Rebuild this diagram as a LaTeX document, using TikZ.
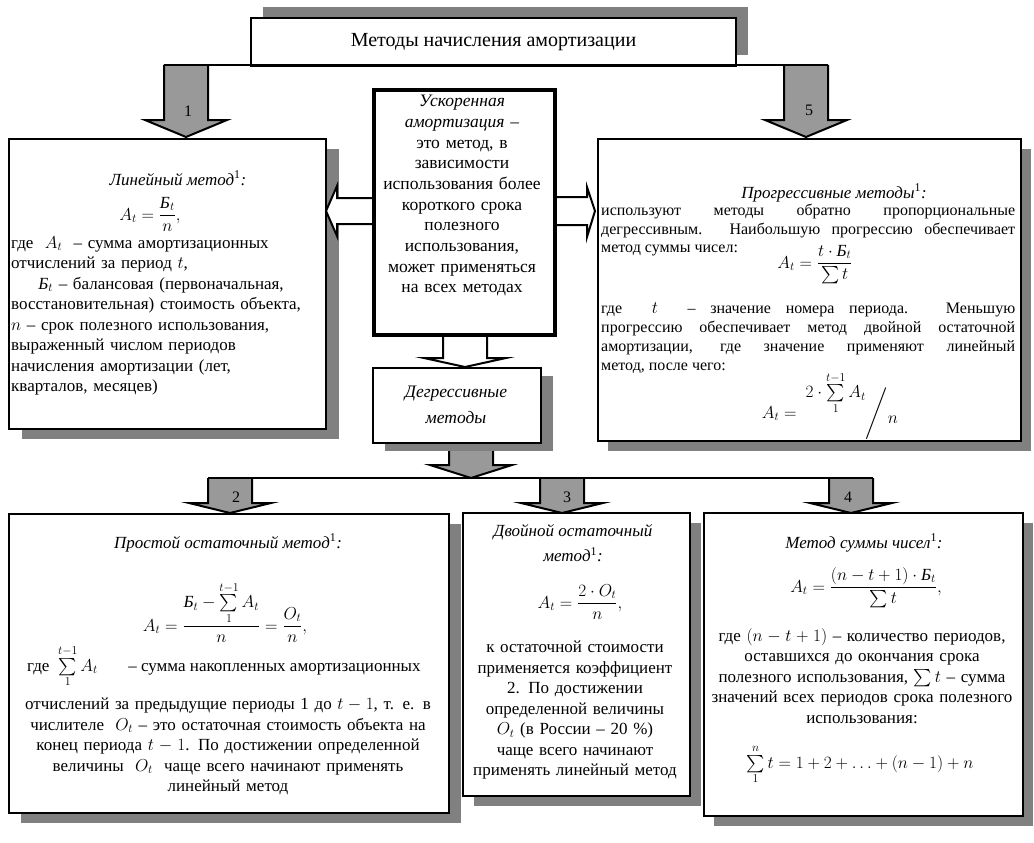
\documentclass[tikz,border=0pt]{standalone}
\usepackage{amsmath}
\usepackage{fontspec}
\setmainfont{Liberation Serif}
\usetikzlibrary{shadows}

\definecolor{shadegray}{RGB}{128,128,128}
\definecolor{arrowgray}{RGB}{153,153,153}

\newcommand{\Bal}{\text{\itshape Б}}
\newcommand{\fn}{\textsuperscript{\upshape 1}:}
% block arrow pointing down: style, x centre, top, head base, tip
\newcommand{\blkdown}[5]{%
  \draw[#1] (#2-22,#3) -- (#2-22,#4) -- (#2-41,#4) -- (#2,#5)
    -- (#2+41,#4) -- (#2+22,#4) -- (#2+22,#3);}

\tikzset{
  frame/.style={draw, line width=2pt, fill=white, anchor=north west, inner sep=0pt},
  boxshadow/.style={drop shadow={shadow xshift=#1, shadow yshift=-10pt,
      fill=shadegray, opacity=1}},
  boxshadow/.default=12pt,
  body/.style={inner sep=0pt, font=\fontsize{17}{20.5}\selectfont},
  hd/.style={inner sep=0pt, font=\fontsize{17}{20.5}\selectfont\itshape, anchor=base},
  fml/.style={inner sep=0pt, font=\fontsize{17}{20.5}\selectfont, anchor=base},
  num/.style={inner sep=0pt, font=\fontsize{16}{16}\selectfont},
  garrow/.style={draw=black, fill=arrowgray, line width=2pt},
  warrow/.style={draw=black, fill=white, line width=2pt},
}

\begin{document}
\begin{tikzpicture}[x=1pt, y=-1pt, line join=miter]
\useasboundingbox (0,0) rectangle (1034,843);

% top: methods
\node[frame, minimum width=485pt, minimum height=48pt,
  drop shadow={shadow xshift=12pt, shadow yshift=11pt, fill=shadegray, opacity=1},
  font=\fontsize{20}{22}\selectfont] (title) at (250,17) {Методы начисления амортизации};
\blkdown{garrow}{186}{65}{120}{137}
\blkdown{garrow}{806}{65}{120}{137}
\draw[line width=2pt] (164,65) -- (828,65);
\node[num] (n1) at (188,111) {1};
\node[num] (n5) at (809,110) {5};

% linear method
\node[frame, boxshadow=13pt, minimum width=317pt, minimum height=290pt] (lin) at (8,138) {};
\node[hd] (linhd) at (178,185) {Линейный метод\fn};
\node[fml] (linf) at (150,220) {$A_t=\dfrac{\Bal_t}{n},$};
\node[body, anchor=north west, text width=312pt, align=left] (lintxt) at (11,236)
  {где \ $A_t$ \ – сумма амортизационных\\
   отчислений за период $t$,\\
   \hspace*{1.6em}$\Bal_t$ – балансовая (первоначальная,\\
   восстановительная) стоимость объекта,\\
   $n$ – срок полезного использования,\\
   выраженный числом периодов\\
   начисления амортизации (лет,\\
   кварталов, месяцев)};

% progressive methods
\node[frame, boxshadow=10pt, minimum width=423pt, minimum height=302pt] (prog) at (597,138) {};
\node[hd] (proghd) at (834,198) {Прогрессивные методы\fn};
\node[body, anchor=north west, text width=414pt, align=justify,
  font=\fontsize{16}{18.5}\selectfont] (progtxt) at (601,204)
  {используют методы обратно пропорциональные\linebreak
   дегрессивным. Наибольшую прогрессию обеспечивает\linebreak
   метод суммы чисел:};
\node[fml] (progf) at (815,268) {$A_t=\dfrac{t\cdot\Bal_t}{\sum t}$};
\node[body, anchor=north west, text width=414pt, align=justify,
  font=\fontsize{16}{19}\selectfont] (progtxt2) at (601,303)
  {где \ $t$ \ – значение номера периода. Меньшую\linebreak
   прогрессию обеспечивает метод двойной остаточной\linebreak
   амортизации, где значение применяют линейный\linebreak
   метод, после чего:};
\node[fml] (progf2) at (830,418)
  {$A_t=\ \raisebox{1.2em}{$2\cdot\sum\limits_{1}^{t-1}A_t$}\Bigg/\raisebox{-0.3em}{$n$}$};

% accelerated depreciation
\blkdown{warrow}{465}{333}{358}{367}
\draw[warrow] (372,198) -- (337,198) -- (337,186) -- (326,211)
  -- (337,236) -- (337,224) -- (372,224);
\draw[warrow] (553,197) -- (587,197) -- (587,187) -- (595,211)
  -- (587,237) -- (587,225) -- (553,225);
\node[frame, line width=4pt, minimum width=181pt, minimum height=245pt] (accel) at (372,88) {};
\node[body, anchor=north, text width=178pt, align=center,
  font=\fontsize{17.5}{20.7}\selectfont] (acceltxt) at (462,95)
  {\textit{Ускоренная}\\ \textit{амортизация} –\\ это метод, в\\ зависимости\\
   использования более\\ короткого срока\\ полезного\\ использования,\\
   может применяться\\ на всех методах};

% degressive methods
\blkdown{garrow}{471}{442}{465}{478}
\node[frame, minimum width=168pt, minimum height=75pt,
  drop shadow={shadow xshift=12pt, shadow yshift=-8pt, fill=shadegray, opacity=1}] (degr) at (372,367) {};
\node[body, align=center, font=\fontsize{17.5}{26}\selectfont\itshape] (degrtxt) at (456,405)
  {Дегрессивные\\ методы};
\blkdown{garrow}{230}{478}{503}{513}
\blkdown{garrow}{562}{478}{503}{513}
\blkdown{garrow}{851}{478}{503}{513}
\draw[line width=2pt] (208,478) -- (873,478);
\node[num] (n2) at (236,497) {2};
\node[num] (n3) at (567,497) {3};
\node[num] (n4) at (848,497) {4};

% simple declining balance
\node[frame, boxshadow=12pt, minimum width=440pt, minimum height=299pt] (simple) at (8,513) {};
\node[hd] (simplehd) at (228,548) {Простой остаточный метод\fn};
\node[fml] (simplef) at (225,631)
  {$A_t=\dfrac{\Bal_t-\sum\limits_{1}^{t-1}A_t}{n}=\dfrac{O_t}{n},$};
\node[body, anchor=base west] (simplesum) at (27,671)
  {где \ $\sum\limits_{1}^{t-1}A_t$\hspace{1.8em}– сумма накопленных амортизационных};
\node[body, anchor=north, text width=425pt, align=center] (simpletxt) at (228,698)
  {отчислений за предыдущие периоды 1 до $t-1$, т. е. в\\
   числителе \ $O_t$ – это остаточная стоимость объекта на\\
   конец периода $t-1$. По достижении определенной\\
   величины \ $O_t$ \ чаще всего начинают применять\\
   линейный метод};

% double declining balance
\node[frame, boxshadow=11pt, minimum width=227pt, minimum height=283pt] (double) at (462,512) {};
\node[body, anchor=north, align=center, font=\fontsize{17}{25}\selectfont\itshape] (doublehd) at (573,524)
  {Двойной остаточный\\ метод\fn};
\node[fml] (doublef) at (580,608) {$A_t=\dfrac{2\cdot O_t}{n},$};
\node[body, anchor=north, text width=222pt, align=center] (doubletxt) at (575,641)
  {к остаточной стоимости\\ применяется коэффициент\\ 2. По достижении\\
   определенной величины\\ $O_t$ (в России – 20 \%)\\ чаще всего начинают\\
   применять линейный метод};

% sum of the years
\node[frame, boxshadow=10pt, minimum width=319pt, minimum height=303pt] (sumyr) at (703,512) {};
\node[hd] (sumyrhd) at (864,548) {Метод суммы чисел\fn};
\node[fml] (sumyrf) at (866,592) {$A_t=\dfrac{(n-t+1)\cdot\Bal_t}{\sum t},$};
\node[body, anchor=north, text width=314pt, align=center] (sumyrtxt) at (862,628)
  {где $(n-t+1)$ – количество периодов,\\ оставшихся до окончания срока\\
   полезного использования, $\sum t$ – сумма\\ значений всех периодов срока полезного\\
   использования:};
\node[fml] (sumyrf2) at (860,768)
  {$\sum\limits_{1}^{n}t=1+2+\ldots+(n-1)+n$};
\end{tikzpicture}
\end{document}
